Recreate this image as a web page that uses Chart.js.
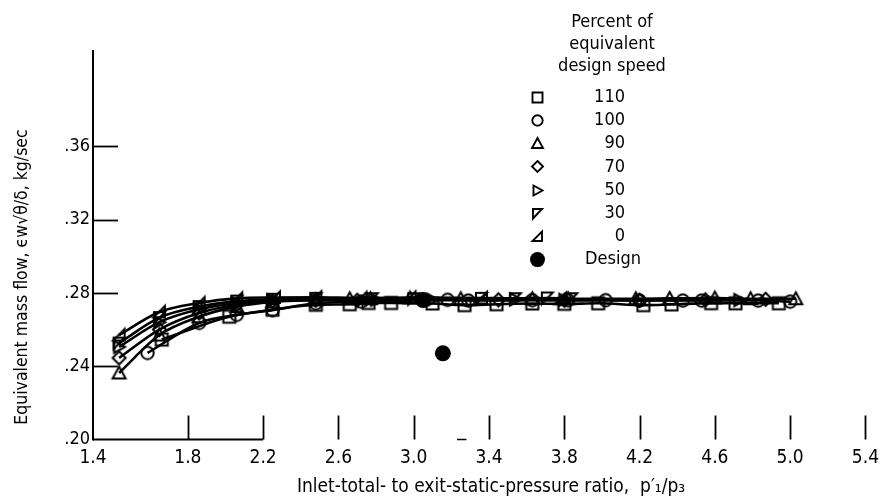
<!DOCTYPE html>
<html><head><meta charset="utf-8">
<script src="https://cdn.jsdelivr.net/npm/chart.js@4/dist/chart.umd.min.js"></script>
<style>html,body{margin:0;padding:0;background:#fff;}#wrap{width:886px;height:500px;}</style>
</head><body><div id="wrap"><canvas id="c" width="886" height="500"></canvas></div>
<script>
// ---------------- data ----------------
const speedLabels = ['110', '100', '90', '70', '50', '30', '0'];
const xTickValues = [1.4, 1.8, 2.2, 2.6, 3.0, 3.4, 3.8, 4.2, 4.6, 5.0, 5.4];
const yTickValues = [0.20, 0.24, 0.28, 0.32, 0.36];

const speed110 = [[1.69,0.2545],[2.02,0.2670],[2.25,0.2708],[2.48,0.2735],[2.66,0.2738],[2.76,0.2745],[2.88,0.2745],[3.10,0.2742],[3.27,0.2733],[3.44,0.2738],[3.63,0.2742],[3.80,0.2740],[3.98,0.2743],[4.22,0.2733],[4.37,0.2737],[4.58,0.2744],[4.71,0.2743],[4.94,0.2743]];
const speed100 = [[1.63,0.2472],[1.86,0.2636],[2.06,0.2680],[2.25,0.2706],[2.48,0.2743],[2.72,0.2752],[3.05,0.2760],[3.18,0.2762],[3.29,0.2758],[3.63,0.2760],[3.82,0.2760],[4.02,0.2760],[4.20,0.2758],[4.43,0.2758],[4.53,0.2758],[4.83,0.2758],[5.00,0.2752]];
const speed90  = [[1.51,0.2363],[1.68,0.2570],[1.86,0.2670],[2.06,0.2725],[2.25,0.2750],[2.48,0.2762],[2.66,0.2768],[2.77,0.2768],[2.98,0.2772],[3.25,0.2768],[3.63,0.2768],[3.82,0.2768],[4.18,0.2768],[4.36,0.2770],[4.60,0.2772],[4.79,0.2768],[5.03,0.2768]];
const speed70  = [[1.51,0.2445],[1.68,0.2600],[1.86,0.2690],[2.06,0.2735],[2.25,0.2755],[2.48,0.2760],[2.70,0.2760],[3.05,0.2762],[3.45,0.2762],[3.80,0.2760],[4.20,0.2760],[4.55,0.2762],[4.87,0.2765]];
const speed50  = [[1.51,0.2505],[1.68,0.2640],[1.86,0.2710],[2.06,0.2745],[2.25,0.2760],[2.48,0.2762],[2.80,0.2762],[3.10,0.2762],[3.54,0.2765],[3.80,0.2762],[4.73,0.2761]];
const speed30  = [[1.51,0.2526],[1.68,0.2665],[1.86,0.2725],[2.06,0.2755],[2.25,0.2765],[2.48,0.2770],[2.78,0.2768],[3.00,0.2768],[3.36,0.2770],[3.54,0.2768],[3.71,0.2772],[3.84,0.2768]];
const speed0   = [[1.51,0.2570],[1.68,0.2696],[1.86,0.2745],[2.06,0.2770],[2.26,0.2775],[2.48,0.2776],[2.72,0.2772],[2.98,0.2775],[3.36,0.2772],[3.78,0.2768]];
const designPoints = [[3.05,0.2761],[3.155,0.2470]];

const speedSeries = [speed110, speed100, speed90, speed70, speed50, speed30, speed0];
const markerKinds = ['square','circle','triangle','diamond','right','downleft','upright'];

const FONT = '"Liberation Sans Narrow", "DejaVu Sans Condensed", "Liberation Sans", sans-serif';
const xTitle = 'Inlet-total- to exit-static-pressure ratio,  p\u2032\u2081/p\u2083';
const yTitle = 'Equivalent mass flow, \u03f5w\u221a\u03b8/\u03b4, kg/sec';
const legendTitle = ['Percent of', 'equivalent', 'design speed'];

// ------------- piecewise x scale (first interval drawn wider, as in the original) -------------
const X_BREAKS = [1.4, 1.8, 5.4];
const X_FRACS = [0, 0.1228, 1];
const LinearScale = Chart.LinearScale || Chart.registry.getScale('linear');
class PiecewiseScale extends LinearScale {
  frac(v) {
    for (let i = 1; i < X_BREAKS.length; i++) {
      if (v <= X_BREAKS[i] || i === X_BREAKS.length - 1) {
        return X_FRACS[i-1] + (v - X_BREAKS[i-1]) / (X_BREAKS[i] - X_BREAKS[i-1]) * (X_FRACS[i] - X_FRACS[i-1]);
      }
    }
  }
  getPixelForValue(v) {
    if (v === null || isNaN(v)) return NaN;
    return this.getPixelForDecimal(this.frac(v));
  }
  getValueForPixel(p) {
    const d = this.getDecimalForPixel(p);
    for (let i = 1; i < X_FRACS.length; i++) {
      if (d <= X_FRACS[i] || i === X_FRACS.length - 1) {
        return X_BREAKS[i-1] + (d - X_FRACS[i-1]) / (X_FRACS[i] - X_FRACS[i-1]) * (X_BREAKS[i] - X_BREAKS[i-1]);
      }
    }
  }
}
PiecewiseScale.id = 'piecewise';
PiecewiseScale.defaults = {};
Chart.register(PiecewiseScale);

// ------------- marker images -------------
function makeMarker(kind, s, lw) {
  const pad = Math.ceil(lw) + 1;
  const W = Math.ceil(s + 2 * pad);
  const c = document.createElement('canvas');
  c.width = W; c.height = W;
  const g = c.getContext('2d');
  g.lineWidth = lw; g.strokeStyle = '#000'; g.lineJoin = 'miter';
  const a = pad, b = pad + s, m = pad + s / 2;
  g.beginPath();
  switch (kind) {
    case 'square': g.rect(a + 0.5, a + 0.5, s - 1, s - 1); break;
    case 'circle': g.arc(m, m, s / 2 - 0.3, 0, Math.PI * 2); break;
    case 'triangle': g.moveTo(m, a); g.lineTo(b, b - 1); g.lineTo(a, b - 1); g.closePath(); break;
    case 'diamond': g.moveTo(m, a); g.lineTo(b, m); g.lineTo(m, b); g.lineTo(a, m); g.closePath(); break;
    case 'right': g.moveTo(a + 1.5, a + 0.5); g.lineTo(b - 0.5, m); g.lineTo(a + 1.5, b - 0.5); g.closePath(); break;
    case 'downleft': g.moveTo(a + 1, a + 1); g.lineTo(b - 1, a + 1); g.lineTo(a + 1, b - 0.5); g.closePath(); break;
    case 'upright': g.moveTo(a + 0.5, b - 1); g.lineTo(b - 1, b - 1); g.lineTo(b - 1, a + 0.5); g.closePath(); break;
  }
  g.stroke();
  return c;
}
const dataMarkers = markerKinds.map(k => makeMarker(k, 13, 2));
const legendMarkers = markerKinds.map(k => makeMarker(k, 11, 1.9));

// ------------- datasets -------------
const datasets = speedSeries.map((pts, i) => ({
  label: speedLabels[i],
  data: pts.map(([x, y]) => ({ x, y })),
  showLine: true,
  borderColor: '#000',
  borderWidth: 2.6,
  backgroundColor: 'rgba(0,0,0,0)',
  pointStyle: dataMarkers[i],
  pointRadius: 7,
  cubicInterpolationMode: 'monotone',
  clip: false
}));
datasets.push({
  label: 'Design',
  data: designPoints.map(([x, y]) => ({ x, y })),
  showLine: false,
  pointStyle: 'circle',
  pointRadius: 8,
  backgroundColor: '#000',
  borderColor: '#000',
  borderWidth: 0
});

// ------------- decorations plugin -------------
const decor = {
  id: 'decor',
  beforeDatasetsDraw(chart) {
    const { ctx, chartArea: ca, scales: { x, y } } = chart;
    ctx.save();
    ctx.strokeStyle = '#000';
    ctx.lineCap = 'butt';
    ctx.lineWidth = 2;
    ctx.beginPath(); ctx.moveTo(ca.left, ca.top); ctx.lineTo(ca.left, ca.bottom + 1); ctx.stroke();
    ctx.beginPath(); ctx.moveTo(ca.left, ca.bottom); ctx.lineTo(x.getPixelForValue(2.2), ca.bottom); ctx.stroke();
    ctx.lineWidth = 1.5;
    ctx.beginPath(); ctx.moveTo(x.getPixelForValue(3.23), ca.bottom); ctx.lineTo(x.getPixelForValue(3.28), ca.bottom); ctx.stroke();
    ctx.lineWidth = 1.8;
    yTickValues.slice(1).forEach(v => {
      const py = Math.round(y.getPixelForValue(v)) + 0.5;
      ctx.beginPath(); ctx.moveTo(ca.left, py); ctx.lineTo(ca.left + 25, py); ctx.stroke();
    });
    xTickValues.slice(1).forEach(v => {
      const px = Math.round(x.getPixelForValue(v)) + 0.5;
      ctx.beginPath(); ctx.moveTo(px, ca.bottom); ctx.lineTo(px, ca.bottom - 24); ctx.stroke();
    });
    ctx.restore();
  },
  afterDraw(chart) {
    const { ctx } = chart;
    ctx.save();
    ctx.fillStyle = '#000';
    ctx.textAlign = 'center'; ctx.textBaseline = 'middle';
    ctx.font = '19px ' + FONT;
    ctx.fillText(xTitle, 491, 487);
    ctx.save();
    ctx.font = '17.5px ' + FONT;
    ctx.translate(22, 277); ctx.rotate(-Math.PI / 2);
    ctx.fillText(yTitle, 0, 0);
    ctx.restore();
    ctx.font = '18px ' + FONT;
    legendTitle.forEach((t, i) => ctx.fillText(t, 612, 22 + i * 22));
    speedLabels.forEach((lab, i) => {
      const ry = 97 + i * 23.3;
      const m = legendMarkers[i];
      ctx.drawImage(m, Math.round(537 - m.width / 2), Math.round(ry - m.height / 2));
      ctx.textAlign = 'right';
      ctx.fillText(lab, 625, ry);
    });
    const dy = 97 + 7 * 23.3 - 0.5;
    ctx.beginPath(); ctx.arc(537.5, dy, 7.5, 0, Math.PI * 2); ctx.fill();
    ctx.textAlign = 'center';
    ctx.fillText('Design', 613, dy);
    ctx.restore();
  }
};

new Chart(document.getElementById('c'), {
  type: 'scatter',
  data: { datasets },
  options: {
    responsive: false,
    animation: false,
    events: [],
    layout: { padding: { left: 0, right: 19, top: 50, bottom: 0 } },
    plugins: { legend: { display: false }, tooltip: { enabled: false } },
    scales: {
      x: {
        type: 'piecewise', min: 1.4, max: 5.4,
        afterBuildTicks: s => { s.ticks = xTickValues.map(v => ({ value: v })); },
        afterFit: s => { s.height = 60.5; },
        grid: { display: false, drawTicks: false },
        border: { display: false },
        ticks: { callback: v => Number(v).toFixed(1), color: '#000', padding: 7, maxRotation: 0, autoSkip: false, font: { family: FONT, size: 19 } }
      },
      y: {
        type: 'linear', min: 0.20, max: 0.4125,
        afterBuildTicks: s => { s.ticks = yTickValues.map(v => ({ value: v })); },
        afterFit: s => { s.width = 93; },
        grid: { display: false, drawTicks: false },
        border: { display: false },
        ticks: { callback: v => '.' + Math.round(v * 100), color: '#000', padding: 3, font: { family: FONT, size: 18 } }
      }
    }
  },
  plugins: [decor]
});
</script></body></html>
